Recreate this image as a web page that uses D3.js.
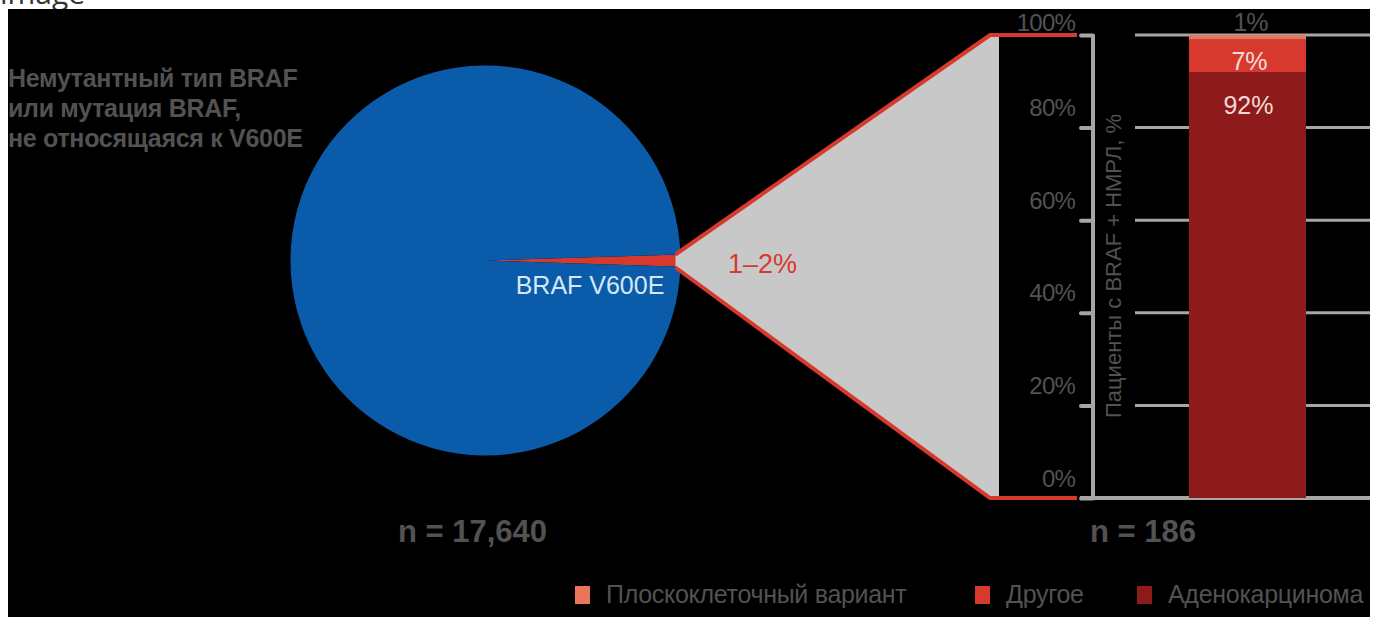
<!DOCTYPE html>
<html><head><meta charset="utf-8">
<script src="https://cdn.jsdelivr.net/npm/d3@7"></script>
<style>html,body{margin:0;padding:0;background:#fff;overflow:hidden}</style>
</head><body>
<svg id="c" width="1377" height="617"></svg>
<script>
// ---- data ----
const pieCategories = ["BRAF V600E", "Немутантный тип BRAF или мутация BRAF, не относящаяся к V600E"];
const pieValues = [1, 99];
const pieLabel = "1–2%";
const pieN = "n = 17,640";
const barSeries = ["Аденокарцинома", "Другое", "Плоскоклеточный вариант"];
const barValues = [92, 7, 1];
const barLabels = ["92%", "7%", "1%"];
const barN = "n = 186";
const yTicks = [0, 20, 40, 60, 80, 100];
const yTickLabels = ["0%", "20%", "40%", "60%", "80%", "100%"];
const yTitle = "Пациенты с BRAF + НМРЛ, %";
const legendOrder = ["Плоскоклеточный вариант", "Другое", "Аденокарцинома"];
const wildLabelLines = ["Немутантный тип BRAF", "или мутация BRAF,", "не относящаяся к V600E"];

const colors = {"Аденокарцинома":"#8e1b1b","Другое":"#d8392e","Плоскоклеточный вариант":"#e9755c"};
const grayText = "#525252";
const F = "Liberation Sans, Arial";

const svg = d3.select("#c");
svg.append("text").attr("x", 0).attr("y", 4).attr("font-family","Open Sans").attr("font-size",30).attr("fill","#333").text("image");
svg.append("rect").attr("x",8).attr("y",9).attr("width",1362).attr("height",608).attr("fill","#000");

// ---- pie ----
const cx = 485.5, cy = 260.5, R = 195;
const half = Math.PI * 2 * pieValues[0] / d3.sum(pieValues) / 2;
const pie = d3.pie().sort(null).startAngle(Math.PI/2 - half).endAngle(Math.PI/2 - half + 2*Math.PI);
const arc = d3.arc().innerRadius(0).outerRadius(R);
const pg = svg.append("g").attr("transform", `translate(${cx},${cy})`);
pg.selectAll("path").data(pie(pieValues)).join("path")
  .attr("d", arc).attr("fill", (d,i) => i === 0 ? "#d8392e" : "#0a5ba9");

// zoom callout
const y = d3.scaleLinear().domain([0,100]).range([498, 35]);
const ax = cx + R - 5;
svg.append("path")
  .attr("d", `M${ax},${cy-5} L990,${y(100)+2} L999,${y(100)+2} L999,${y(0)-1} L990,${y(0)-1} L${ax},${cy+6} Z`)
  .attr("fill", "#c8c8c8");
svg.append("path").attr("d", `M${ax},${cy-6} L990,${y(100)} L1077,${y(100)}`)
  .attr("fill","none").attr("stroke","#d8392e").attr("stroke-width",4);
svg.append("path").attr("d", `M${ax},${cy+7} L990,${y(0)} L1077,${y(0)}`)
  .attr("fill","none").attr("stroke","#d8392e").attr("stroke-width",4);

svg.append("text").attr("x", 590).attr("y", 294).attr("text-anchor","middle")
  .attr("font-family",F).attr("font-size",25).attr("fill","#d6e8f5").text(pieCategories[0]);
svg.append("text").attr("x", 728).attr("y", 273)
  .attr("font-family",F).attr("font-size",27).attr("fill","#d8392e").text(pieLabel);

svg.append("g").selectAll("text").data(wildLabelLines).join("text")
  .attr("x", 8).attr("y", (d,i) => 87 + i*30)
  .attr("font-family",F).attr("font-weight","bold").attr("font-size",25)
  .attr("letter-spacing","-0.3").attr("fill", grayText).text(d => d);

svg.append("text").attr("x", 398).attr("y", 542)
  .attr("font-family",F).attr("font-weight","bold").attr("font-size",31)
  .attr("fill", grayText).text(pieN);

// ---- bar chart ----
svg.append("g").selectAll("line").data(yTicks.filter(d => d > 0)).join("line")
  .attr("x1", 1135).attr("x2", 1370).attr("y1", d => y(d)).attr("y2", d => y(d))
  .attr("stroke", "#a6a6a6").attr("stroke-width", 3);
svg.append("line").attr("x1",1080).attr("x2",1370).attr("y1",y(0)).attr("y2",y(0))
  .attr("stroke","#a6a6a6").attr("stroke-width",4);

const axis = d3.axisLeft(y).tickValues(yTicks).tickSize(12).tickFormat((d,i) => yTickLabels[i]);
const ag = svg.append("g").attr("transform","translate(1093,0)").call(axis);
ag.select(".domain").attr("stroke","#a6a6a6").attr("stroke-width",4).attr("d", `M0,${y(100)}V${y(0)}`);
ag.selectAll(".tick line").attr("stroke","#a6a6a6").attr("stroke-width",4).attr("stroke-linecap","round");
ag.selectAll(".tick text").attr("x",-18).attr("dy", d => d === 100 ? "-0.2em" : "-0.5em")
  .attr("font-family",F).attr("font-size",24).attr("letter-spacing","-0.8")
  .attr("fill", grayText);

svg.append("text").attr("transform","translate(1121,266) rotate(-90)").attr("text-anchor","middle")
  .attr("font-family",F).attr("font-size",22).attr("fill",grayText).text(yTitle);

const stackRow = {}; barSeries.forEach((s,i) => stackRow[s] = barValues[i]);
const stacked = d3.stack().keys(barSeries)([stackRow]);
const bx = 1189, bw = 117;
svg.append("g").selectAll("rect").data(stacked).join("rect")
  .attr("x", bx).attr("width", bw)
  .attr("y", d => y(d[0][1])).attr("height", d => y(d[0][0]) - y(d[0][1]))
  .attr("fill", d => colors[d.key]);

svg.append("text").attr("x", bx+bw/2+1).attr("y", 114).attr("text-anchor","middle")
  .attr("font-family",F).attr("font-size",25).attr("fill","#f3d9d6").text(barLabels[0]);
svg.append("text").attr("x", bx+bw/2+2).attr("y", 70).attr("text-anchor","middle")
  .attr("font-family",F).attr("font-size",25).attr("fill","#f6dcd8").text(barLabels[1]);
svg.append("text").attr("x", bx+bw/2+3).attr("y", 31).attr("text-anchor","middle")
  .attr("font-family",F).attr("font-size",25).attr("letter-spacing","-1").attr("fill",grayText).text(barLabels[2]);

svg.append("text").attr("x", 1090).attr("y", 542)
  .attr("font-family",F).attr("font-weight","bold").attr("font-size",31)
  .attr("fill", grayText).text(barN);

// ---- legend ----
const legX = [575, 975, 1137];
const lg = svg.append("g").selectAll("g").data(legendOrder).join("g")
  .attr("transform", (d,i) => `translate(${legX[i]},586)`);
lg.append("rect").attr("width",15).attr("height",18).attr("fill", d => colors[d]);
lg.append("text").attr("x", 31).attr("y", 17)
  .attr("font-family",F).attr("font-size",25).attr("letter-spacing","-0.3")
  .attr("fill", grayText).text(d => d);
</script>
</body></html>
